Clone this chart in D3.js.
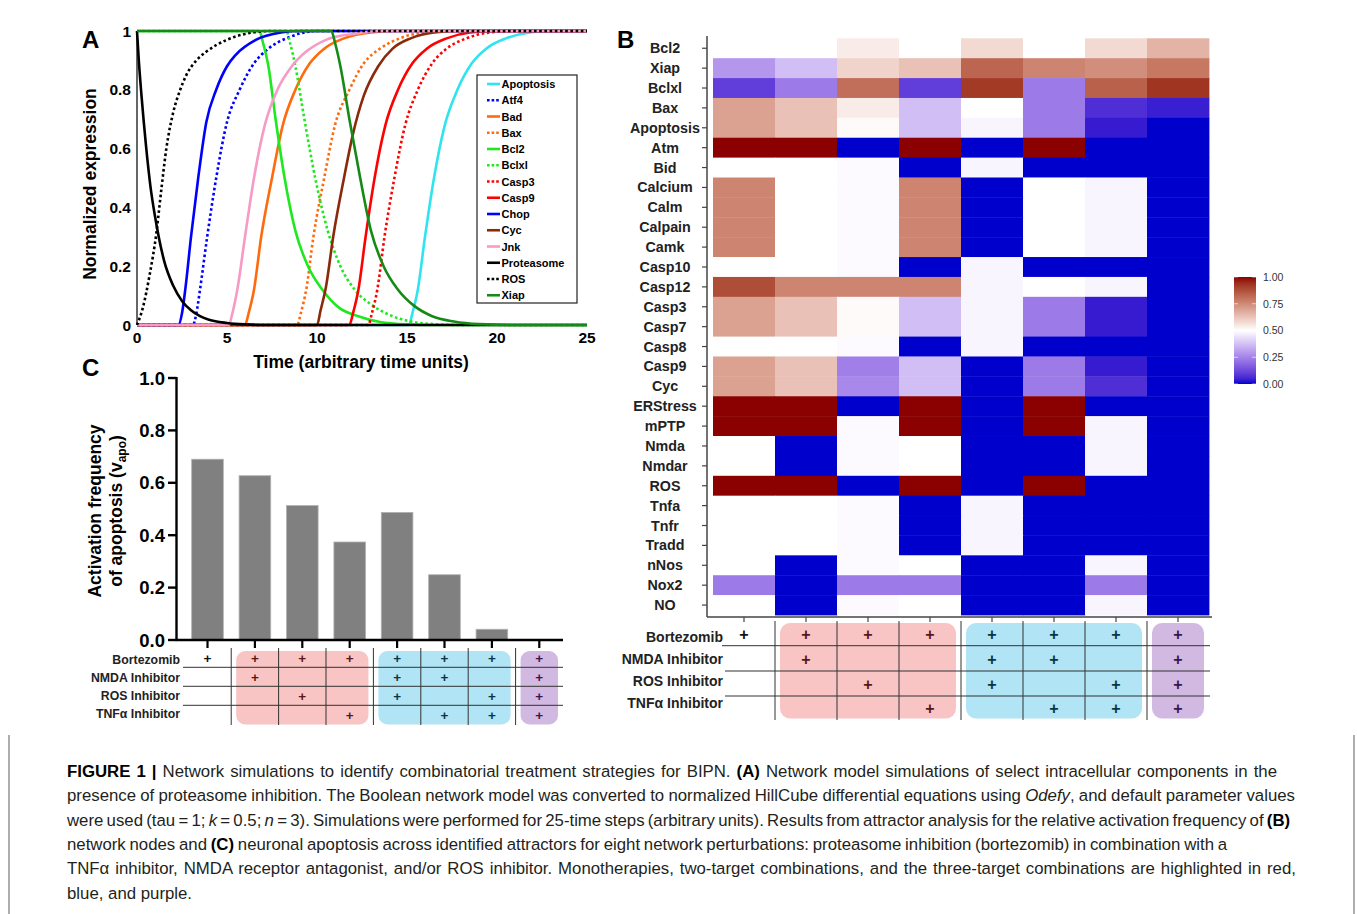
<!DOCTYPE html>
<html><head><meta charset="utf-8">
<script src="https://cdn.jsdelivr.net/npm/d3@7"></script>
<style>body{margin:0;background:#fff}svg{display:block}</style>
</head><body>
<svg id="fig" width="1357" height="914"></svg>
<script>
// ---------------- DATA ----------------
// Panel A: time courses [t, normalized expression]
const apoptosis = [[0,0],[15.1,0],[15.3,0.04],[15.6,0.12],[16.0,0.3],[16.5,0.5],[17.1,0.68],[17.8,0.8],[18.6,0.89],[19.4,0.94],[20.5,0.975],[21.8,0.995],[23,1],[25,1]];
const atf4 = [[0,0],[3.1,0],[3.3,0.04],[3.5,0.12],[3.9,0.3],[4.4,0.5],[5.0,0.69],[5.7,0.8],[6.5,0.89],[7.3,0.94],[8.5,0.98],[10,1],[25,1]];
const bad = [[0,0],[6.0,0],[6.2,0.04],[6.5,0.12],[6.9,0.3],[7.5,0.5],[8.1,0.68],[8.8,0.8],[9.6,0.89],[10.4,0.94],[11.5,0.975],[13,0.995],[14.5,1],[25,1]];
const bax = [[0,0],[8.9,0],[9.1,0.04],[9.4,0.12],[9.8,0.3],[10.4,0.5],[11.0,0.68],[11.8,0.8],[12.6,0.89],[13.5,0.94],[14.6,0.975],[16,0.995],[17.5,1],[25,1]];
const bcl2 = [[0,1],[6.8,1],[7.0,0.96],[7.3,0.88],[7.7,0.7],[8.2,0.5],[8.8,0.32],[9.5,0.2],[10.3,0.12],[11.2,0.06],[12.3,0.03],[13.5,0.01],[15,0.002],[16.5,0],[25,0]];
const bclxl = [[0,1],[8.3,1],[8.5,0.96],[8.8,0.88],[9.3,0.7],[9.9,0.5],[10.6,0.32],[11.3,0.2],[12.1,0.12],[13.0,0.07],[14.0,0.035],[15.2,0.012],[16.5,0.003],[18,0],[25,0]];
const casp3 = [[0,0],[12.85,0],[13.05,0.04],[13.35,0.12],[13.75,0.3],[14.3,0.5],[14.9,0.68],[15.6,0.8],[16.4,0.89],[17.2,0.94],[18.3,0.975],[19.6,0.995],[21,1],[25,1]];
const casp9 = [[0,0],[11.8,0],[12.0,0.04],[12.3,0.12],[12.7,0.3],[13.2,0.5],[13.8,0.68],[14.5,0.8],[15.3,0.89],[16.1,0.94],[17.2,0.975],[18.5,0.995],[20,1],[25,1]];
const chop = [[0,0],[2.3,0],[2.5,0.04],[2.7,0.13],[3.0,0.3],[3.4,0.5],[3.85,0.69],[4.4,0.8],[5.0,0.88],[5.5,0.92],[6.6,0.97],[8,0.995],[9,1],[25,1]];
const cyc = [[0,0],[10.0,0],[10.2,0.05],[10.5,0.13],[10.9,0.3],[11.5,0.5],[12.0,0.65],[12.6,0.78],[13.4,0.88],[14.2,0.94],[15.2,0.975],[16.5,0.995],[18,1],[25,1]];
const jnk = [[0,0],[5.1,0],[5.3,0.04],[5.6,0.13],[6.0,0.3],[6.5,0.5],[7.1,0.68],[7.8,0.8],[8.6,0.88],[9.4,0.93],[10.5,0.97],[12,0.99],[13.5,1],[25,1]];
const proteasome = [[0,1],[0.1,0.9],[0.25,0.78],[0.5,0.61],[0.75,0.47],[1,0.37],[1.5,0.22],[2,0.135],[2.5,0.082],[3,0.05],[3.5,0.03],[4,0.018],[5,0.007],[6,0.002],[7,0],[25,0]];
const ros = [[0,0],[0.33,0.06],[0.7,0.17],[1.07,0.31],[1.35,0.46],[1.63,0.6],[2.0,0.72],[2.4,0.8],[2.74,0.85],[3.3,0.9],[3.86,0.93],[5,0.97],[6,0.99],[7.5,1],[25,1]];
const xiap = [[0,1],[10.8,1],[11.0,0.96],[11.3,0.88],[11.8,0.7],[12.4,0.5],[13.0,0.32],[13.7,0.2],[14.5,0.12],[15.4,0.065],[16.4,0.03],[17.6,0.012],[19,0.003],[21,0],[25,0]];
const seriesNames = ["Apoptosis","Atf4","Bad","Bax","Bcl2","Bclxl","Casp3","Casp9","Chop","Cyc","Jnk","Proteasome","ROS","Xiap"];
const seriesData = [apoptosis,atf4,bad,bax,bcl2,bclxl,casp3,casp9,chop,cyc,jnk,proteasome,ros,xiap];
const seriesColors = ["#2fe4ee","#0000ff","#ff6a0d","#ff6a0d","#1ee81e","#1ee81e","#ff0000","#ff0000","#0000ff","#8b2a0a","#f79ac6","#000000","#000000","#168a16"];
const seriesDotted = [false,true,false,true,false,true,true,false,false,false,false,false,true,false];
const timeTicks = [0,5,10,15,20,25];
const exprTicks = [0,0.2,0.4,0.6,0.8,1];

// Panel B: relative activation frequency per node (rows) across 8 perturbations (columns)
const nodes = ["Bcl2","Xiap","Bclxl","Bax","Apoptosis","Atm","Bid","Calcium","Calm","Calpain","Camk","Casp10","Casp12","Casp3","Casp7","Casp8","Casp9","Cyc","ERStress","mPTP","Nmda","Nmdar","ROS","Tnfa","Tnfr","Tradd","nNos","Nox2","NO"];
const heatValues = [
 [0.5,0.5,0.54,0.5,0.58,0.5,0.58,0.66],
 [0.29,0.37,0.59,0.63,0.83,0.76,0.74,0.79],
 [0.1,0.23,0.81,0.1,0.92,0.23,0.84,0.93],
 [0.7,0.63,0.54,0.37,0.5,0.23,0.07,0.04],
 [0.7,0.63,0.51,0.37,0.48,0.23,0.035,0],
 [1,1,0,1,0,1,0,0],
 [0.5,0.5,0.49,0,0.48,0,0,0],
 [0.76,0.5,0.49,0.76,0,0.5,0.48,0],
 [0.76,0.5,0.49,0.76,0,0.5,0.48,0],
 [0.76,0.5,0.49,0.76,0,0.5,0.48,0],
 [0.76,0.5,0.49,0.76,0,0.5,0.48,0],
 [0.5,0.5,0.49,0,0.48,0,0,0],
 [0.88,0.76,0.76,0.76,0.48,0.5,0.48,0],
 [0.7,0.63,0.51,0.37,0.48,0.23,0.035,0],
 [0.7,0.63,0.51,0.37,0.48,0.23,0.035,0],
 [0.5,0.5,0.49,0,0.48,0,0,0],
 [0.7,0.63,0.24,0.37,0,0.23,0.035,0],
 [0.7,0.63,0.26,0.37,0,0.23,0.07,0],
 [1,1,0,1,0,1,0,0],
 [1,1,0.49,1,0,1,0.48,0],
 [0.5,0,0.49,0.5,0,0,0.48,0],
 [0.5,0,0.49,0.5,0,0,0.48,0],
 [1,1,0,1,0,1,0,0],
 [0.5,0.5,0.49,0,0.48,0,0,0],
 [0.5,0.5,0.49,0,0.48,0,0,0],
 [0.5,0.5,0.49,0,0.48,0,0,0],
 [0.5,0,0.49,0.5,0,0,0.48,0],
 [0.23,0,0.23,0.23,0,0,0.23,0],
 [0.5,0,0.49,0.5,0,0,0.48,0]
];
const colorbarTicks = [0,0.25,0.5,0.75,1];

// Perturbations (shared by B and C)
const treatments = ["Bortezomib","NMDA Inhibitor","ROS Inhibitor","TNFα Inhibitor"];
const combos = [
 [1,0,0,0],[1,1,0,0],[1,0,1,0],[1,0,0,1],[1,1,1,0],[1,1,0,1],[1,0,1,1],[1,1,1,1]
];
const groupOf = ["none","mono","mono","mono","two","two","two","three"];

// Panel C: activation frequency of apoptosis
const apoFreq = [0.69,0.627,0.513,0.374,0.487,0.249,0.041,0];
const apoTicks = [0,0.2,0.4,0.6,0.8,1.0];

// Caption lines (segments: [text, style])
const captionLines = [
 [["FIGURE 1 | ","b"],["Network simulations to identify combinatorial treatment strategies for BIPN. ",""],["(A)","b"],[" Network model simulations of select intracellular components in the",""]],
 [["presence of proteasome inhibition. The Boolean network model was converted to normalized HillCube differential equations using ",""],["Odefy","i"],[", and default parameter values",""]],
 [["were used (tau = 1; ",""],["k","i"],[" = 0.5; ",""],["n","i"],[" = 3). Simulations were performed for 25-time steps (arbitrary units). Results from attractor analysis for the relative activation frequency of ",""],["(B)","b"]],
 [["network nodes and ",""],["(C)","b"],[" neuronal apoptosis across identified attractors for eight network perturbations: proteasome inhibition (bortezomib) in combination with a",""]],
 [["TNFα inhibitor, NMDA receptor antagonist, and/or ROS inhibitor. Monotherapies, two-target combinations, and the three-target combinations are highlighted in red,",""]],
 [["blue, and purple.",""]]
];
const captionRightEdges = [1277,1295,1290,1227,1296,null];

// ---------------- DRAW ----------------
const FONT = "'Liberation Sans', Arial, Helvetica, sans-serif";
const svg = d3.select("#fig").style("font-family", FONT);
svg.append("rect").attr("width",1357).attr("height",914).attr("fill","#fff");

// Panel labels
[["A",82,48],["B",617,48],["C",82,376]].forEach(([t,x,y])=>{
  svg.append("text").attr("x",x).attr("y",y).attr("font-size",24).attr("font-weight","bold").text(t);
});

// ----- Panel A -----
const xA = d3.scaleLinear().domain([0,25]).range([137,587]);
const yA = d3.scaleLinear().domain([0,1]).range([325,31]);
const gA = svg.append("g");
gA.append("line").attr("x1",xA(0)).attr("x2",xA(0)).attr("y1",yA(1)).attr("y2",yA(0)).attr("stroke","#000").attr("stroke-width",1.2);
gA.append("line").attr("x1",xA(0)).attr("x2",xA(25)).attr("y1",yA(0)).attr("y2",yA(0)).attr("stroke","#000").attr("stroke-width",1.2);
gA.selectAll(".yt").data(exprTicks).enter().append("text")
  .attr("x",131).attr("y",d=>yA(d)+5.5).attr("text-anchor","end")
  .attr("font-size",15.5).attr("font-weight","bold").text(d=>d3.format("~g")(d));
gA.selectAll(".xt").data(timeTicks).enter().append("text")
  .attr("x",d=>xA(d)).attr("y",343).attr("text-anchor","middle")
  .attr("font-size",15.5).attr("font-weight","bold").text(d=>d);
gA.append("text").attr("transform","translate(96,184) rotate(-90)").attr("text-anchor","middle")
  .attr("font-size",17.5).attr("font-weight","bold").text("Normalized expression");
gA.append("text").attr("x",361).attr("y",368).attr("text-anchor","middle")
  .attr("font-size",17.5).attr("font-weight","bold").text("Time (arbitrary time units)");
const lineA = d3.line().x(d=>xA(d[0])).y(d=>yA(d[1])).curve(d3.curveMonotoneX);
svg.append("clipPath").attr("id","clipA").append("rect")
  .attr("x",xA(0)-2).attr("y",yA(1)-3).attr("width",xA(25)-xA(0)+4).attr("height",yA(0)-yA(1)+6);
const curves = gA.append("g").attr("clip-path","url(#clipA)");
seriesData.forEach((d,i)=>{
  curves.append("path").attr("d",lineA(d)).attr("fill","none")
    .attr("stroke",seriesColors[i]).attr("stroke-width",2.6)
    .attr("stroke-dasharray",seriesDotted[i]?"2.6,2.6":null);
});
// Legend
const lg = gA.append("g");
lg.append("rect").attr("x",477).attr("y",75).attr("width",100).attr("height",228)
  .attr("fill","#fff").attr("stroke","#222").attr("stroke-width",1.2);
seriesNames.forEach((n,i)=>{
  const y = 84 + i*16.25;
  lg.append("line").attr("x1",487).attr("x2",500).attr("y1",y).attr("y2",y)
    .attr("stroke",seriesColors[i]).attr("stroke-width",2.6)
    .attr("stroke-dasharray",seriesDotted[i]?"2.6,2":null);
  lg.append("text").attr("x",501.5).attr("y",y+4).attr("font-size",11).attr("font-weight","bold").text(n);
});

// ----- Panel B -----
const xB = d3.scaleBand().domain(d3.range(8)).range([713,1209]);
const yB = d3.scaleBand().domain(nodes).range([38.3,615]);
const cB = d3.scaleLinear().domain([0,0.5,1]).range(["#0000cd","#ffffff","#8b0000"]).interpolate(d3.interpolateLab);
const gB = svg.append("g");
const cells = [];
heatValues.forEach((row,r)=>row.forEach((v,c)=>cells.push({r,c,v})));
gB.selectAll(".cell").data(cells).enter().append("rect")
  .attr("x",d=>xB(d.c)).attr("y",d=>yB(nodes[d.r]))
  .attr("width",xB.bandwidth()+0.4).attr("height",yB.bandwidth()+0.4)
  .attr("fill",d=>cB(d.v));
gB.append("line").attr("x1",707).attr("x2",707).attr("y1",36).attr("y2",617).attr("stroke","#444").attr("stroke-width",1.5);
gB.append("line").attr("x1",707).attr("x2",1212).attr("y1",617).attr("y2",617).attr("stroke","#444").attr("stroke-width",1.5);
nodes.forEach(n=>{
  const y = yB(n)+yB.bandwidth()/2;
  gB.append("line").attr("x1",702).attr("x2",707).attr("y1",y).attr("y2",y).attr("stroke","#444").attr("stroke-width",1.2);
  gB.append("text").attr("x",665).attr("y",y+5).attr("text-anchor","middle")
    .attr("font-size",14.3).attr("font-weight","bold").attr("fill","#222").text(n);
});
d3.range(8).forEach(c=>{
  const x = xB(c)+xB.bandwidth()/2;
  gB.append("line").attr("x1",x).attr("x2",x).attr("y1",617).attr("y2",622).attr("stroke","#444").attr("stroke-width",1.2);
});
// Colorbar
const grad = svg.append("defs").append("linearGradient").attr("id","cbar").attr("x1",0).attr("x2",0).attr("y1",1).attr("y2",0);
d3.range(0,1.0001,0.05).forEach(t=>grad.append("stop").attr("offset",t).attr("stop-color",cB(t)));
const yCb = d3.scaleLinear().domain([0,1]).range([384,277]);
gB.append("rect").attr("x",1234).attr("y",yCb(1)).attr("width",22).attr("height",yCb(0)-yCb(1)).attr("fill","url(#cbar)");
colorbarTicks.forEach(t=>{
  gB.append("line").attr("x1",1234).attr("x2",1238).attr("y1",yCb(t)).attr("y2",yCb(t)).attr("stroke","#fff").attr("stroke-opacity",0.6);
  gB.append("line").attr("x1",1252).attr("x2",1256).attr("y1",yCb(t)).attr("y2",yCb(t)).attr("stroke","#fff").attr("stroke-opacity",0.6);
  gB.append("text").attr("x",1263).attr("y",yCb(t)+3.8).attr("font-size",10.5).attr("fill","#333").text(d3.format(".2f")(t));
});

// ----- Perturbation table helper -----
const groupFill = {mono:"#f8c4c4", two:"#b1e4f4", three:"#d1b9e1"};
const plusColor = {none:"#111", mono:"#5c1616", two:"#0d3442", three:"#3a1650"};
function drawTable(g, xc, step, cfg){
  [["mono",1,3],["two",4,6],["three",7,7]].forEach(([k,a,b])=>{
    g.append("rect").attr("x",xc(a)-step/2+cfg.boxPad).attr("y",cfg.boxTop)
      .attr("width",xc(b)-xc(a)+step-2*cfg.boxPad).attr("height",cfg.boxBottom-cfg.boxTop)
      .attr("rx",cfg.rx).attr("fill",groupFill[k]);
  });
  cfg.hLines.forEach((y,i)=>g.append("line").attr("x1",cfg.hStart[i]).attr("x2",cfg.hEnd).attr("y1",y).attr("y2",y).attr("stroke","#333").attr("stroke-width",1));
  d3.range(1,8).forEach(c=>{
    const x = xc(c)-step/2;
    g.append("line").attr("x1",x).attr("x2",x).attr("y1",cfg.vTop).attr("y2",cfg.vBottom).attr("stroke","#333").attr("stroke-width",1);
  });
  treatments.forEach((t,r)=>{
    g.append("text").attr("x",cfg.labelX).attr("y",cfg.labelY[r]).attr("text-anchor","end")
      .attr("font-size",cfg.labelSize).attr("font-weight","bold").attr("fill","#222").text(t);
  });
  combos.forEach((cmb,c)=>cmb.forEach((on,r)=>{
    if(!on) return;
    g.append("text").attr("x",xc(c)).attr("y",cfg.plusY[r]).attr("text-anchor","middle")
      .attr("font-size",cfg.plusSize).attr("font-weight","bold").attr("fill",plusColor[groupOf[c]]).text("+");
  }));
}
drawTable(svg.append("g"), c=>xB(c)+xB.bandwidth()/2, xB.step(), {
  boxPad:5, boxTop:623, boxBottom:718.5, rx:10,
  hLines:[645.7,671,696], hStart:[722,725,725], hEnd:1210,
  vTop:621, vBottom:720,
  labelX:723, labelY:[642,664,686,708], labelSize:14,
  plusY:[640,665,690,714], plusSize:16
});

// ----- Panel C -----
const xC = d3.scaleBand().domain(d3.range(8)).range([183.8,563]).paddingInner(0.333).paddingOuter(0.1667);
const yC = d3.scaleLinear().domain([0,1]).range([640,378]);
const gC = svg.append("g");
gC.selectAll(".bar").data(apoFreq).enter().append("rect")
  .attr("x",(d,i)=>xC(i)).attr("y",d=>yC(d)).attr("width",xC.bandwidth()).attr("height",d=>yC(0)-yC(d))
  .attr("fill","#808080").attr("stroke","#b0b0b0").attr("stroke-width",0.8);
gC.append("line").attr("x1",176.5).attr("x2",176.5).attr("y1",377).attr("y2",641).attr("stroke","#000").attr("stroke-width",2.4);
gC.append("line").attr("x1",175.5).attr("x2",563).attr("y1",640).attr("y2",640).attr("stroke","#000").attr("stroke-width",2.4);
apoTicks.forEach(t=>{
  gC.append("line").attr("x1",168).attr("x2",176.5).attr("y1",yC(t)).attr("y2",yC(t)).attr("stroke","#000").attr("stroke-width",2.4);
  gC.append("text").attr("x",165).attr("y",yC(t)+6.5).attr("text-anchor","end")
    .attr("font-size",18.5).attr("font-weight","bold").text(d3.format(".1f")(t));
});
d3.range(8).forEach(c=>{
  const x = xC(c)+xC.bandwidth()/2;
  gC.append("line").attr("x1",x).attr("x2",x).attr("y1",640).attr("y2",648).attr("stroke","#000").attr("stroke-width",2.2);
});
const yl = gC.append("text").attr("transform","translate(101,511) rotate(-90)").attr("text-anchor","middle")
  .attr("font-size",17.5).attr("font-weight","bold");
yl.append("tspan").attr("x",0).attr("dy",0).text("Activation frequency");
const yl2 = gC.append("text").attr("transform","translate(122,511) rotate(-90)").attr("text-anchor","middle")
  .attr("font-size",17.5).attr("font-weight","bold");
yl2.append("tspan").text("of apoptosis (v");
yl2.append("tspan").attr("font-size",12).attr("dy",4).text("apo");
yl2.append("tspan").attr("dy",-4).text(")");
drawTable(svg.append("g"), c=>xC(c)+xC.bandwidth()/2, xC.step(), {
  boxPad:5, boxTop:651, boxBottom:724.5, rx:9,
  hLines:[667.3,686.3,705.3], hStart:[183,183,183], hEnd:563,
  vTop:648, vBottom:725,
  labelX:180, labelY:[663.5,681.5,700,718], labelSize:12.3,
  plusY:[662.5,681.5,700.5,720], plusSize:13.5
});

// ----- Caption -----
const cap = svg.append("g");
captionLines.forEach((segs,i)=>{
  const t = cap.append("text").attr("x",67).attr("y",777+i*24.3).attr("font-size",16.8).attr("fill","#231f20");
  segs.forEach(([s,st])=>{
    const ts = t.append("tspan").text(s);
    if(st==="b") ts.attr("font-weight","bold").attr("fill","#000");
    if(st==="i") ts.attr("font-style","italic");
  });
  const target = captionRightEdges[i];
  if(target){
    const len = t.node().getComputedTextLength();
    const spaces = segs.map(s=>s[0]).join("").split(" ").length-1;
    const ws = (target-67-len)/spaces;
    t.attr("word-spacing", ws.toFixed(2));
  }
});
// Frame lines
cap.append("line").attr("x1",9).attr("x2",9).attr("y1",735).attr("y2",914).attr("stroke","#777").attr("stroke-width",1.2);
cap.append("line").attr("x1",1354).attr("x2",1354).attr("y1",735).attr("y2",914).attr("stroke","#777").attr("stroke-width",1.2);
</script>
</body></html>
